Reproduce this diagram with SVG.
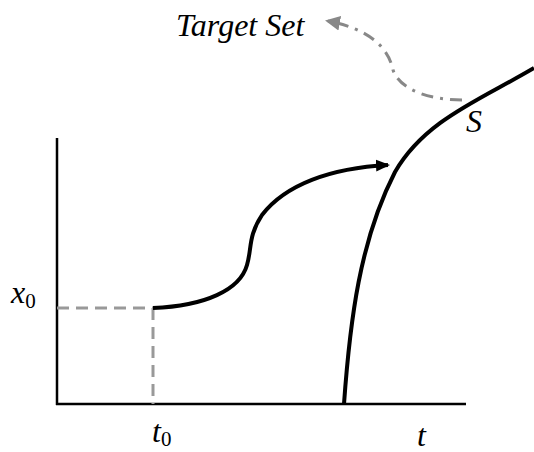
<svg xmlns="http://www.w3.org/2000/svg" width="534" height="452" viewBox="0 0 534 452">
<style>
text{font-family:'Liberation Serif','Times New Roman',serif}
.lbl{font-style:italic;font-size:32px;fill:#000}
.sub{font-style:normal;font-size:21px;fill:#000}
.axis{stroke:#000;stroke-width:2.5;fill:none}
.guide{stroke:#999;stroke-width:3;fill:none;stroke-dasharray:12 7}
.curve{stroke:#000;stroke-width:4;fill:none}
.ds{stroke:#888;stroke-width:3;fill:none;stroke-dasharray:12 7 3 7}
</style>
<defs>
<marker id="ah" markerWidth="4" markerHeight="4" refX="3" refY="2" orient="auto" markerUnits="strokeWidth">
<path d="M0,0.5 L3.5,2 L0,3.5 Z" fill="#000"/>
</marker>
<marker id="ahg" markerWidth="6" markerHeight="6" refX="4" refY="3" orient="auto" markerUnits="strokeWidth">
<path d="M0,0.5 L5,3 L0,5.5 Z" fill="#888"/>
</marker>
</defs>
<g id="axes">
<line class="axis" x1="57" y1="138" x2="57" y2="405"/>
<line class="axis" x1="56" y1="404" x2="466" y2="404"/>
</g>
<g id="connectors">
<line class="guide" x1="57" y1="308" x2="153" y2="308"/>
<line class="guide" x1="153" y1="308" x2="153" y2="404"/>
<path class="curve" d="M153,308 C205,306 240,290 247,265 C252,248 248,236 262,215 C285,185 330,168 388,165" marker-end="url(#ah)"/>
<path class="ds" d="M462,100 C430,100 400,90 393,70 C388,45 365,28 328,21" marker-end="url(#ahg)"/>
</g>
<g id="S-curve">
<path class="curve" d="M344,404 C350,320 360,240 395,172 C425,120 480,100 534,68"/>
</g>
<g id="labels">
<text class="lbl" x="176" y="36">Target Set</text>
<text class="lbl" x="466" y="132">S</text>
<text class="lbl" x="11" y="303">x<tspan class="sub" dy="5">0</tspan></text>
<text class="lbl" x="152" y="442">t<tspan class="sub" dy="4">0</tspan></text>
<text class="lbl" x="417" y="446">t</text>
</g>
</svg>
